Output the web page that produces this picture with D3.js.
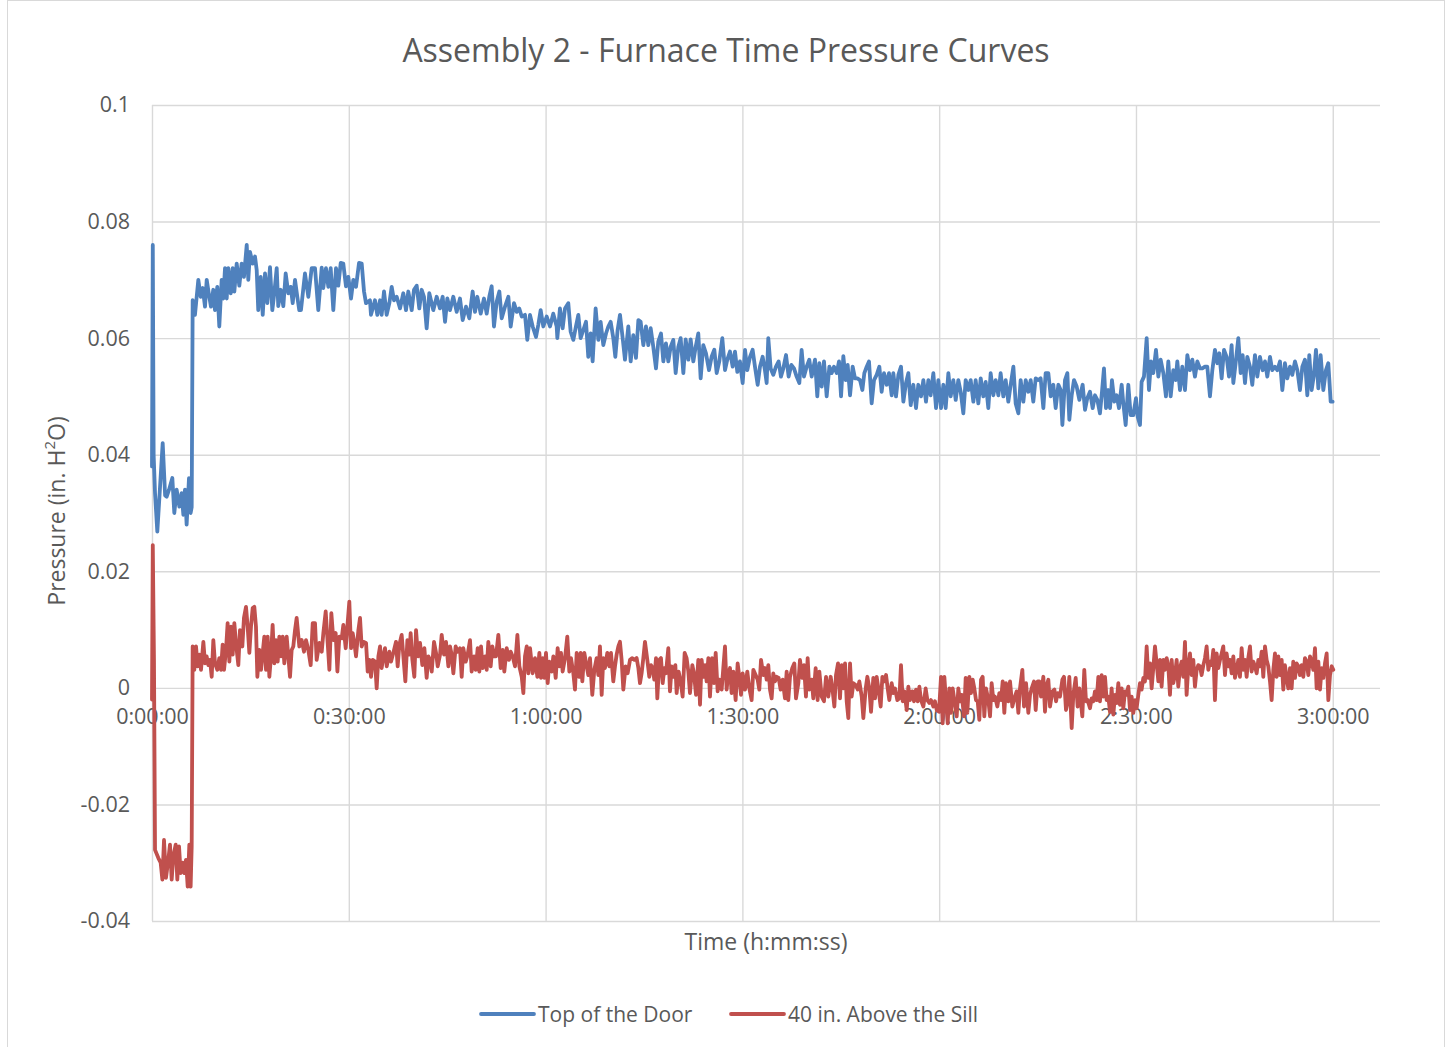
<!DOCTYPE html>
<html>
<head>
<meta charset="utf-8">
<script src="https://cdn.jsdelivr.net/npm/d3@7"></script>
<style>
  body { margin: 0; background: #fff; }
  svg { font-family: "Open Sans", "DejaVu Sans", sans-serif; }
</style>
</head>
<body>
<svg id="chart" width="1452" height="1047"></svg>
<script>
// axis ticks
var xTicks = [0, 30, 60, 90, 120, 150, 180];
var xTickLabels = ["0:00:00", "0:30:00", "1:00:00", "1:30:00", "2:00:00", "2:30:00", "3:00:00"];
var yTicks = [-0.04, -0.02, 0, 0.02, 0.04, 0.06, 0.08, 0.1];
var yTickLabels = ["-0.04", "-0.02", "0", "0.02", "0.04", "0.06", "0.08", "0.1"];

var seriesNames = ["Top of the Door", "40 in. Above the Sill"];

// [minutes, pressure in. H2O]
var topOfDoor = [
  [0,0.038],[0.12,0.076],[0.25,0.040],[0.46,0.0334],[0.81,0.0268],[1.2,0.034],[1.63,0.042],[2.0,0.033],[2.24,0.0328],[2.6,0.034],
  [3.1,0.036],[3.4,0.030],[3.76,0.034],[4.17,0.0311],[4.52,0.0334],[4.78,0.0297],[5.03,0.034],[5.28,0.028],[5.64,0.036],[5.89,0.030],
  [6.05,0.031],[6.20,0.0665],[6.55,0.064],[7.06,0.070],[7.42,0.0671],[7.73,0.0686],[8.08,0.0654],[8.34,0.070],[8.69,0.0674],[8.99,0.0654],
  [9.34,0.0683],[9.60,0.0648],[9.95,0.0688],[10.26,0.062],[10.62,0.070],[10.87,0.0668],[11.13,0.072],[11.39,0.0668],[11.63,0.072],[12.00,0.0677],
  [12.30,0.072],[12.55,0.068],[12.91,0.0728],[13.31,0.069],[13.67,0.0728],[14.02,0.0705],[14.44,0.076],[14.68,0.070],[14.94,0.0748],[15.35,0.0728],
  [15.70,0.074],[15.96,0.0717],[16.20,0.0648],[16.57,0.0705],[16.88,0.064],[17.23,0.0711],[17.58,0.066],[17.99,0.0722],[18.34,0.0648],[18.64,0.0677],
  [19.01,0.072],[19.25,0.0655],[19.62,0.0683],[20.02,0.0655],[20.38,0.0711],[20.78,0.0677],[21.14,0.0688],[21.45,0.066],[21.80,0.070],[22.15,0.0671],
  [22.45,0.0648],[22.71,0.0648],[23.32,0.0711],[23.83,0.0671],[24.34,0.072],[24.85,0.072],[25.35,0.0648],[25.87,0.0721],[26.11,0.0686],[26.52,0.072],
  [26.88,0.0688],[27.24,0.072],[27.64,0.0648],[28.05,0.072],[28.40,0.069],[28.77,0.0729],[29.16,0.0728],[29.57,0.0689],[29.93,0.0705],[30.34,0.0668],
  [30.69,0.070],[31.10,0.0688],[31.56,0.0729],[31.97,0.0728],[32.32,0.068],[32.62,0.066],[33.23,0.0665],[33.38,0.064],[33.99,0.0665],[34.35,0.064],
  [34.76,0.0665],[35.01,0.064],[35.37,0.068],[35.77,0.064],[36.18,0.066],[36.54,0.0688],[36.89,0.0665],[37.30,0.0671],[37.81,0.0651],[38.31,0.0677],
  [38.72,0.0648],[39.07,0.068],[39.59,0.0648],[39.94,0.0683],[40.35,0.069],[40.75,0.0651],[41.11,0.0683],[41.46,0.0671],[41.87,0.0617],[42.27,0.0677],
  [42.88,0.0648],[43.40,0.0671],[43.90,0.0651],[44.31,0.0671],[44.67,0.0628],[45.02,0.0668],[45.43,0.0648],[45.93,0.0671],[46.45,0.0645],[46.95,0.0668],
  [47.36,0.0631],[47.87,0.0654],[48.37,0.0634],[48.88,0.068],[49.24,0.0645],[49.59,0.0671],[50.11,0.0642],[50.61,0.0668],[51.02,0.0642],[51.42,0.0671],
  [51.78,0.0689],[52.13,0.062],[52.55,0.0663],[52.95,0.068],[53.31,0.0634],[53.81,0.0654],[54.32,0.0671],[54.68,0.062],[55.18,0.066],[55.60,0.0645],
  [55.99,0.0651],[56.36,0.0637],[56.86,0.064],[57.21,0.0597],[57.62,0.064],[58.03,0.062],[58.54,0.0602],[58.89,0.0623],[59.25,0.0648],[59.65,0.062],
  [60.17,0.0637],[60.67,0.062],[61.17,0.0642],[61.69,0.062],[61.79,0.060],[62.19,0.0651],[62.60,0.0617],[62.96,0.0651],[63.46,0.066],[63.82,0.0611],
  [64.23,0.0597],[64.63,0.062],[64.99,0.064],[65.34,0.060],[65.75,0.0614],[66.16,0.0628],[66.51,0.0568],[66.87,0.0608],[67.17,0.056],[67.63,0.0651],
  [68.04,0.0597],[68.39,0.0628],[68.80,0.0588],[69.21,0.0608],[69.56,0.062],[69.92,0.0628],[70.32,0.060],[70.63,0.0568],[70.98,0.0614],[71.34,0.064],
  [71.75,0.060],[72.10,0.0563],[72.61,0.062],[72.97,0.056],[73.37,0.0605],[73.78,0.0566],[74.14,0.0631],[74.49,0.0628],[74.90,0.0588],[75.30,0.062],
  [75.66,0.0588],[76.02,0.0617],[76.42,0.0585],[76.83,0.0548],[77.18,0.0594],[77.59,0.0608],[77.95,0.056],[78.35,0.0591],[78.71,0.056],[79.06,0.0585],
  [79.47,0.0597],[79.83,0.054],[80.23,0.0585],[80.59,0.060],[81.00,0.054],[81.35,0.0598],[81.76,0.0563],[82.11,0.0598],[82.52,0.056],[82.88,0.0585],
  [83.28,0.0608],[83.64,0.0531],[84.04,0.0588],[84.45,0.0574],[84.91,0.0545],[85.31,0.0568],[85.72,0.058],[86.08,0.054],[86.48,0.056],[86.94,0.060],
  [87.35,0.0545],[87.70,0.0563],[88.11,0.0577],[88.52,0.0551],[88.87,0.0577],[89.23,0.0542],[89.63,0.056],[90.04,0.0523],[90.40,0.058],[90.75,0.0545],
  [91.16,0.0568],[91.56,0.058],[91.92,0.0551],[92.33,0.052],[92.68,0.0551],[93.09,0.0568],[93.44,0.0545],[93.70,0.0523],[93.95,0.060],[94.31,0.0548],
  [94.71,0.0537],[95.12,0.0551],[95.53,0.056],[95.88,0.0534],[96.24,0.0548],[96.65,0.0571],[97.05,0.0534],[97.46,0.0554],[97.87,0.0548],[98.27,0.0534],
  [98.68,0.0523],[99.03,0.058],[99.39,0.0534],[99.80,0.0551],[100.20,0.0563],[100.56,0.0534],[101.07,0.0563],[101.42,0.050],[101.73,0.0557],[102.09,0.0517],
  [102.44,0.056],[102.85,0.050],[103.26,0.0551],[103.61,0.054],[103.97,0.0551],[104.38,0.054],[104.73,0.056],[105.04,0.050],[105.39,0.0569],[105.75,0.0528],
  [106.05,0.0554],[106.41,0.0502],[106.81,0.0551],[107.17,0.0531],[107.53,0.0531],[107.93,0.0528],[108.29,0.0511],[108.59,0.054],[108.95,0.0551],[109.30,0.056],
  [109.71,0.0488],[110.07,0.0528],[110.47,0.0537],[110.88,0.0551],[111.23,0.0508],[111.59,0.054],[112.00,0.052],[112.35,0.054],[112.76,0.0502],[113.01,0.054],
  [113.42,0.050],[113.78,0.0537],[114.18,0.0551],[114.54,0.0491],[114.94,0.0523],[115.30,0.054],[115.66,0.0485],[116.06,0.052],[116.47,0.048],[116.82,0.052],
  [117.23,0.050],[117.59,0.0528],[117.99,0.0491],[118.35,0.0528],[118.70,0.0502],[119.11,0.054],[119.52,0.048],[119.87,0.0528],[120.28,0.048],[120.64,0.052],
  [120.99,0.048],[121.40,0.054],[121.75,0.050],[122.16,0.0528],[122.52,0.0494],[122.92,0.0528],[123.28,0.0508],[123.68,0.0471],[124.04,0.0528],[124.45,0.0511],
  [124.80,0.0528],[125.21,0.0491],[125.56,0.0528],[125.97,0.0488],[126.33,0.0531],[126.73,0.050],[127.09,0.0525],[127.49,0.048],[127.85,0.054],[128.26,0.0502],
  [128.61,0.0528],[129.02,0.0502],[129.37,0.054],[129.78,0.050],[130.14,0.0528],[130.54,0.0491],[130.90,0.052],[131.31,0.0551],[131.66,0.0488],[132.07,0.0471],
  [132.42,0.0528],[132.83,0.0491],[133.19,0.0528],[133.59,0.0508],[133.95,0.0528],[134.35,0.0491],[134.71,0.0531],[135.12,0.0528],[135.47,0.0531],[135.88,0.048],
  [136.23,0.054],[136.64,0.054],[137.00,0.050],[137.40,0.052],[137.76,0.048],[138.17,0.052],[138.52,0.0511],[138.78,0.0451],[139.18,0.0528],[139.54,0.054],
  [139.84,0.046],[140.20,0.0502],[140.55,0.0528],[140.96,0.0517],[141.37,0.0494],[141.87,0.052],[142.23,0.0477],[142.58,0.0497],[142.99,0.0508],[143.40,0.048],
  [143.75,0.0502],[144.11,0.0494],[144.51,0.0471],[144.82,0.0508],[145.12,0.0548],[145.43,0.048],[145.78,0.0511],[146.04,0.048],[146.34,0.0528],[146.70,0.0491],
  [147.05,0.0502],[147.41,0.048],[147.82,0.052],[148.07,0.0488],[148.43,0.0451],[148.83,0.052],[149.19,0.0468],[149.59,0.0468],[150.00,0.0497],[150.26,0.0465],
  [150.61,0.0451],[150.86,0.0525],[151.22,0.0534],[151.63,0.060],[151.98,0.0511],[152.29,0.056],[152.64,0.054],[153.05,0.058],[153.41,0.0534],[153.76,0.0563],
  [154.17,0.054],[154.57,0.050],[154.93,0.056],[155.29,0.050],[155.69,0.0545],[156.05,0.0528],[156.30,0.056],[156.71,0.0511],[157.06,0.0551],[157.47,0.0511],
  [157.83,0.0571],[158.23,0.0545],[158.59,0.0563],[158.99,0.0534],[159.35,0.056],[159.76,0.0548],[160.11,0.0548],[160.52,0.0551],[160.87,0.0551],[161.28,0.050],
  [161.64,0.0545],[162.04,0.058],[162.40,0.0557],[162.70,0.0574],[163.06,0.0531],[163.42,0.058],[163.82,0.0568],[164.18,0.0534],[164.58,0.0588],[164.84,0.0523],
  [165.19,0.0557],[165.60,0.060],[165.96,0.054],[166.26,0.0571],[166.62,0.0523],[166.97,0.0568],[167.38,0.0551],[167.73,0.052],[168.14,0.0571],[168.50,0.0534],
  [168.90,0.0568],[169.31,0.0545],[169.67,0.056],[170.02,0.0534],[170.43,0.0568],[170.78,0.0545],[171.19,0.0551],[171.55,0.0545],[171.95,0.056],[172.31,0.0511],
  [172.71,0.0557],[173.07,0.0531],[173.48,0.0551],[173.83,0.0537],[174.24,0.056],[174.60,0.0545],[175.00,0.0511],[175.36,0.0551],[175.76,0.0563],[176.12,0.0502],
  [176.42,0.0571],[176.78,0.0511],[177.13,0.0537],[177.44,0.058],[177.80,0.0514],[178.15,0.0571],[178.56,0.0511],[178.96,0.0545],[179.32,0.0557],[179.68,0.0491],
  [179.98,0.0491]
];

var aboveSill = [
  [0,-0.002],[0.12,0.0245],[0.3,0.005],[0.46,-0.0278],[0.97,-0.0292],[1.32,-0.030],[1.58,-0.0329],[1.83,-0.0261],[2.13,-0.0326],[2.49,-0.0295],
  [2.74,-0.0269],[3.00,-0.0329],[3.25,-0.0289],[3.61,-0.0269],[3.86,-0.0329],[4.12,-0.0272],[4.37,-0.0318],[4.67,-0.030],[4.93,-0.0318],[5.18,-0.0295],
  [5.44,-0.0341],[5.69,-0.0269],[5.89,-0.0341],[6.05,-0.0272],[6.20,0.0071],[6.45,0.0031],[6.71,0.0071],[6.96,0.0037],[7.22,0.0057],[7.47,0.0031],
  [7.83,0.0079],[8.08,0.0042],[8.33,0.0054],[8.59,0.0039],[8.84,0.0048],[9.10,0.0019],[9.35,0.0082],[9.60,0.0042],[9.96,0.0031],[10.26,0.0051],
  [10.52,0.0031],[10.77,0.0074],[10.98,0.0031],[11.28,0.0065],[11.53,0.0111],[11.79,0.0045],[12.04,0.0105],[12.30,0.0057],[12.55,0.0111],[12.80,0.0077],
  [13.16,0.0039],[13.41,0.0099],[13.77,0.0071],[14.02,0.012],[14.33,0.0139],[14.58,0.0105],[14.84,0.006],[15.09,0.0105],[15.35,0.0137],[15.60,0.0139],
  [15.85,0.0105],[16.06,0.0019],[16.36,0.0065],[16.62,0.0031],[16.87,0.006],[17.12,0.0088],[17.38,0.0031],[17.63,0.0088],[17.89,0.0019],[18.14,0.0054],
  [18.39,0.0108],[18.65,0.0042],[18.90,0.0082],[19.16,0.0045],[19.41,0.0088],[19.66,0.0054],[19.92,0.0088],[20.17,0.0042],[20.53,0.0088],[20.78,0.0054],
  [21.04,0.0019],[21.29,0.0065],[21.54,0.0071],[21.80,0.0099],[22.05,0.012],[22.46,0.0071],[22.82,0.0082],[23.17,0.0062],[23.48,0.0082],[23.83,0.0065],
  [24.19,0.0039],[24.50,0.0111],[24.85,0.0111],[25.10,0.0048],[25.51,0.0077],[25.87,0.0062],[26.12,0.0094],[26.48,0.0131],[26.78,0.0077],[27.04,0.0031],
  [27.34,0.0128],[27.65,0.0082],[28.00,0.0094],[28.26,0.0028],[28.56,0.0088],[28.92,0.0085],[29.17,0.0108],[29.53,0.0068],[29.78,0.0105],[30.08,0.0148],
  [30.34,0.0068],[30.59,0.0094],[30.85,0.0077],[31.10,0.0054],[31.46,0.0099],[31.71,0.012],[31.96,0.0071],[32.22,0.0079],[32.63,0.0077],[32.88,0.0028],
  [33.13,0.0048],[33.39,0.0019],[33.64,0.0048],[34.00,0.0045],[34.25,-0.0001],[34.51,0.0054],[34.76,0.0071],[35.01,0.0034],[35.27,0.0054],[35.52,0.0068],
  [35.78,0.0037],[36.18,0.0062],[36.44,0.0045],[36.79,0.006],[37.20,0.0079],[37.45,0.0037],[37.71,0.0074],[38.06,0.0091],[38.32,0.0054],[38.62,0.0011],
  [38.93,0.0082],[39.23,0.0057],[39.43,0.0094],[39.69,0.0048],[39.99,0.0019],[40.25,0.0099],[40.55,0.0054],[40.86,0.0077],[41.21,0.0039],[41.52,0.0068],
  [41.87,0.0017],[42.13,0.0054],[42.38,0.0048],[42.64,0.0028],[42.99,0.0079],[43.30,0.006],[43.55,0.0037],[43.91,0.0057],[44.16,0.0091],[44.52,0.0057],
  [44.82,0.0079],[45.18,0.0037],[45.43,0.0071],[45.68,0.0057],[45.94,0.0025],[46.29,0.0071],[46.60,0.0062],[46.95,0.0068],[47.21,0.0019],[47.46,0.0068],
  [47.82,0.0045],[48.12,0.0057],[48.48,0.0082],[48.73,0.0028],[49.09,0.0054],[49.34,0.0031],[49.65,0.0068],[49.90,0.0028],[50.16,0.0071],[50.41,0.0034],
  [50.77,0.0054],[51.02,0.0031],[51.27,0.0079],[51.63,0.0037],[51.88,0.0071],[52.19,0.0054],[52.44,0.0054],[52.80,0.0091],[53.15,0.0034],[53.46,0.0065],
  [53.71,0.0028],[54.07,0.0068],[54.42,0.0048],[54.68,0.0062],[54.98,0.0054],[55.34,0.0037],[55.70,0.0091],[56.00,0.0037],[56.36,0.0019],[56.61,-0.0009],
  [56.86,0.0054],[57.12,0.0071],[57.37,0.0025],[57.63,0.0068],[58.03,0.0025],[58.39,0.0051],[58.74,0.0019],[59.05,0.006],[59.30,0.0017],[59.56,0.0051],
  [59.81,0.0017],[60.06,0.006],[60.32,0.0008],[60.57,0.0045],[60.93,0.0028],[61.18,0.0054],[61.54,0.0017],[61.84,0.0068],[62.10,0.0037],[62.35,0.006],
  [62.60,0.0028],[62.96,0.0051],[63.31,0.0088],[63.62,0.0028],[63.87,0.0051],[64.23,0.0025],[64.48,-0.0003],[64.74,0.006],[65.09,0.0019],[65.34,0.006],
  [65.60,0.0011],[65.90,0.006],[66.26,0.0037],[66.51,0.0022],[66.77,0.0051],[67.12,-0.0012],[67.43,0.0031],[67.78,0.0051],[68.04,0.0022],[68.29,0.0071],
  [68.55,-0.0012],[68.80,0.0051],[69.05,0.0034],[69.41,0.006],[69.71,0.0037],[69.97,0.006],[70.32,0.0011],[70.58,0.0037],[70.83,0.0057],[71.09,0.0071],
  [71.34,0.0079],[71.59,0.0048],[71.85,-0.0003],[72.20,0.0037],[72.51,0.0025],[72.87,0.0048],[73.22,0.0051],[73.53,0.0048],[73.88,0.0051],[74.14,0.0034],
  [74.39,0.0008],[74.64,0.0025],[74.90,0.0051],[75.15,0.0079],[75.51,0.0048],[75.81,0.0019],[76.07,0.0039],[76.32,0.0034],[76.57,0.0014],[76.83,0.0051],
  [77.03,-0.0018],[77.34,0.0048],[77.59,0.0051],[77.85,0.0008],[78.10,0.0034],[78.35,0.0025],[78.71,0.0068],[78.96,-0.0006],[79.22,0.0037],[79.47,0.0019],
  [79.78,0.0039],[79.98,-0.0009],[80.28,0.0028],[80.59,0.0011],[80.89,-0.0015],[81.20,0.006],[81.50,0.0051],[81.76,0.0028],[82.01,-0.0009],[82.37,0.0039],
  [82.62,0.0025],[82.93,-0.0012],[83.28,0.0048],[83.54,-0.0029],[83.79,0.0048],[84.04,0.0019],[84.30,0.0039],[84.55,0.0011],[84.81,0.0051],[85.06,-0.0015],
  [85.37,0.0051],[85.67,0.0008],[85.93,0.006],[86.23,-0.0006],[86.48,0.0014],[86.84,-0.0003],[87.09,0.0034],[87.35,0.0071],[87.60,-0.0003],[87.85,0.0025],
  [88.11,0.0034],[88.36,-0.0009],[88.62,0.0028],[88.97,-0.0021],[89.28,0.0042],[89.53,0.0019],[89.79,-0.0012],[90.04,0.0025],[90.40,-0.0003],[90.75,0.0028],
  [91.06,-0.0001],[91.41,-0.0021],[91.67,0.0031],[92.02,0.0022],[92.33,0.0014],[92.58,-0.0003],[92.84,0.0048],[93.19,0.0022],[93.44,0.0034],[93.70,0.0014],
  [93.95,0.0039],[94.21,-0.0003],[94.46,-0.0018],[94.71,0.0025],[94.97,0.0011],[95.22,0.0019],[95.53,0.0017],[95.83,-0.0003],[96.14,0.0014],[96.49,-0.0018],
  [96.75,0.0028],[97.00,-0.0021],[97.26,0.0019],[97.61,0.0034],[97.92,0.0042],[98.17,-0.0018],[98.53,0.0008],[98.78,0.0048],[99.14,0.0017],[99.39,0.0039],
  [99.69,-0.0015],[99.95,0.0051],[100.20,-0.0003],[100.56,0.0014],[100.81,-0.0018],[101.17,0.0034],[101.47,-0.0021],[101.73,0.0028],[102.09,-0.0015],[102.44,-0.0023],
  [102.75,0.0019],[103.10,-0.0015],[103.46,0.0019],[103.77,-0.0006],[104.02,-0.0032],[104.27,0.0022],[104.58,0.0042],[104.88,-0.0018],[105.14,0.0039],[105.39,-0.0001],
  [105.65,0.0042],[105.90,-0.0023],[106.15,-0.0052],[106.41,0.0042],[106.66,-0.0015],[106.92,0.0008],[107.27,0.0005],[107.58,-0.0003],[107.83,0.0011],[108.19,-0.0015],
  [108.44,-0.0052],[108.80,-0.0001],[109.05,0.0019],[109.35,-0.0001],[109.61,-0.0041],[109.96,0.0017],[110.22,-0.0018],[110.47,0.0019],[110.73,-0.0001],[111.08,-0.0032],
  [111.34,0.0019],[111.59,0.0011],[111.90,0.0022],[112.15,-0.0001],[112.40,-0.0021],[112.76,0.0008],[113.01,-0.0009],[113.27,-0.0001],[113.62,-0.0021],[113.93,-0.0018],
  [114.18,0.0039],[114.44,-0.0023],[114.69,-0.0006],[115.05,-0.0038],[115.30,0.0002],[115.55,-0.0021],[115.91,-0.0006],[116.16,-0.0023],[116.47,-0.0003],[116.72,-0.0023],
  [116.98,0.0002],[117.23,-0.0021],[117.59,-0.0032],[117.94,-0.0001],[118.20,-0.0021],[118.50,-0.0026],[118.75,-0.0021],[119.11,-0.0032],[119.36,-0.0023],[119.62,-0.0038],
  [119.97,-0.0041],[120.28,0.0019],[120.53,-0.0061],[120.79,0.0019],[121.04,-0.0023],[121.30,-0.0061],[121.55,-0.0001],[121.80,-0.0043],[122.06,-0.0001],[122.31,-0.0021],
  [122.67,-0.0049],[122.92,-0.0001],[123.18,-0.0023],[123.43,-0.0012],[123.79,-0.0049],[124.04,0.0017],[124.29,-0.0043],[124.60,0.0019],[124.85,-0.0009],[125.11,0.0014],
  [125.36,-0.0001],[125.61,-0.0021],[125.87,-0.0023],[126.12,-0.0055],[126.38,0.0014],[126.63,0.0019],[126.88,-0.0049],[127.14,-0.0001],[127.49,-0.0021],[127.75,-0.0049],
  [128.00,0.0008],[128.26,-0.0021],[128.51,-0.0015],[128.87,-0.0032],[129.17,-0.0009],[129.43,-0.0021],[129.68,0.0011],[129.93,-0.0043],[130.19,0.0008],[130.54,-0.0023],
  [130.80,0.0011],[131.15,-0.0032],[131.46,-0.0018],[131.81,-0.0006],[132.07,-0.0043],[132.32,-0.0001],[132.68,0.0031],[132.93,-0.0032],[133.24,0.0008],[133.59,-0.0043],
  [133.85,-0.0012],[134.10,-0.0001],[134.46,0.0011],[134.71,-0.0038],[135.02,0.0011],[135.27,0.0011],[135.52,-0.0015],[135.88,0.0019],[136.13,-0.0041],[136.39,0.0005],
  [136.64,0.0014],[136.90,-0.0032],[137.25,-0.0006],[137.56,-0.0003],[137.81,-0.0023],[138.06,-0.0009],[138.42,-0.0015],[138.78,0.0014],[139.03,0.0019],[139.33,-0.0038],
  [139.59,-0.0023],[139.84,0.0019],[140.20,-0.0069],[140.45,-0.0012],[140.81,0.0017],[141.11,-0.0032],[141.37,-0.0001],[141.82,-0.0049],[142.12,0.0031],[142.38,-0.0023],
  [142.63,-0.0021],[142.99,-0.0035],[143.24,-0.0018],[143.50,-0.0023],[143.75,-0.0006],[144.01,-0.0021],[144.26,0.0019],[144.51,-0.0023],[144.77,0.0022],[145.02,-0.0015],
  [145.28,0.0019],[145.53,-0.0021],[145.78,-0.0015],[146.04,-0.0041],[146.29,-0.0001],[146.55,-0.0046],[146.80,-0.0012],[147.05,-0.0026],[147.31,0.0008],[147.56,-0.0029],
  [147.82,-0.0001],[148.07,-0.0035],[148.32,-0.0006],[148.58,-0.0012],[148.83,0.0002],[149.09,-0.0038],[149.34,-0.0015],[149.59,-0.0043],[149.85,-0.0021],[150.10,-0.0035],
  [150.36,-0.0012],[150.61,0.0008],[150.86,-0.0003],[151.12,0.0017],[151.37,0.0011],[151.63,0.0071],[151.88,0.0017],[152.14,0.0042],[152.39,-0.0001],[152.64,0.0034],
  [152.90,0.0071],[153.15,0.0042],[153.41,0.0011],[153.66,0.0048],[153.91,0.0002],[154.17,0.0048],[154.42,0.0031],[154.68,0.0051],[154.93,0.0037],[155.18,-0.0012],
  [155.44,0.0048],[155.69,0.0008],[155.95,0.0022],[156.20,0.0048],[156.45,0.0002],[156.71,0.0034],[156.96,0.0045],[157.22,0.0019],[157.47,0.0079],[157.72,-0.0012],
  [157.98,0.0037],[158.23,0.0059],[158.49,0.0022],[158.74,0.0048],[158.99,0.0002],[159.25,0.0031],[159.50,0.0039],[159.76,0.0037],[160.01,0.0022],[160.27,0.0039],
  [160.52,0.0051],[160.77,0.0071],[161.03,0.0031],[161.28,0.0045],[161.54,0.0039],[161.79,0.0065],[162.04,-0.0021],[162.30,0.0059],[162.55,0.0034],[162.81,0.0048],
  [163.06,0.0059],[163.31,0.0071],[163.57,0.0022],[163.82,0.0059],[164.08,0.0037],[164.33,0.0048],[164.58,0.0025],[164.84,0.0054],[165.09,0.0017],[165.35,0.0031],
  [165.60,0.0048],[165.85,0.0019],[166.11,0.0068],[166.36,0.0031],[166.62,0.0048],[166.87,0.0019],[167.12,0.0051],[167.38,0.0071],[167.63,0.0028],[167.89,0.0045],
  [168.14,0.0037],[168.40,0.0025],[168.65,0.0048],[168.90,0.0037],[169.16,0.0062],[169.41,0.0019],[169.67,0.0071],[169.92,0.0048],[170.17,0.0037],[170.43,0.0011],
  [170.68,-0.0021],[170.94,0.0031],[171.19,0.0059],[171.44,0.0019],[171.70,0.0054],[171.95,0.0022],[172.21,0.0048],[172.46,-0.0003],[172.71,0.0039],[172.97,0.0017],
  [173.22,-0.0001],[173.48,0.0034],[173.73,-0.0001],[173.98,0.0045],[174.24,0.0017],[174.49,0.0042],[174.75,0.0037],[175.00,0.0022],[175.25,0.0039],[175.51,0.0019],
  [175.76,0.0051],[176.02,0.0045],[176.27,0.0022],[176.53,0.0054],[176.78,0.0045],[177.03,0.0031],[177.29,0.0068],[177.54,-0.0001],[177.80,0.0045],[178.05,-0.0003],
  [178.31,0.0034],[178.56,0.0017],[178.81,0.0042],[179.07,0.0059],[179.32,-0.0021],[179.58,0.0022],[179.83,0.0037],[180.08,0.0031]
];

var width = 1452, height = 1047;
var plot = { left: 152, right: 1380, top: 105, bottom: 921 };
var textColor = "#595959";
var gridColor = "#d9d9d9";
var colors = ["#4f81bd", "#c0504d"];

var svg = d3.select("#chart");

// chart border
svg.append("rect")
  .attr("x", 7.5).attr("y", 0.5)
  .attr("width", 1437).attr("height", 1060)
  .attr("fill", "#fff")
  .attr("stroke", gridColor);

// x domain in minutes; axis runs a bit past 3:00:00 like the original
var x = d3.scaleLinear().domain([0, 187.2]).range([plot.left, plot.right]);
var y = d3.scaleLinear().domain([-0.04, 0.1]).range([plot.bottom, plot.top]);

// gridlines
var gx = svg.append("g")
  .attr("transform", "translate(0," + plot.bottom + ")")
  .call(d3.axisBottom(x).tickValues(xTicks).tickSize(-(plot.bottom - plot.top)).tickFormat(""));
var gy = svg.append("g")
  .attr("transform", "translate(" + plot.left + ",0)")
  .call(d3.axisLeft(y).tickValues(yTicks).tickSize(-(plot.right - plot.left)).tickFormat(""));
[gx, gy].forEach(function(g) {
  g.select(".domain").remove();
  g.selectAll(".tick line").attr("stroke", gridColor).attr("stroke-width", 1.4);
});

// y tick labels
var yAxis = svg.append("g")
  .attr("transform", "translate(" + plot.left + ",0)")
  .call(d3.axisLeft(y).tickValues(yTicks).tickSize(0).tickPadding(22)
    .tickFormat(function(d, i) { return yTickLabels[i]; }));
yAxis.select(".domain").remove();
yAxis.selectAll("text")
  .attr("fill", textColor)
  .style("font-size", "21.5px")
  .style("font-family", "'Open Sans', sans-serif");

// x tick labels sit along the zero line
var xAxis = svg.append("g")
  .attr("transform", "translate(0," + y(0) + ")")
  .call(d3.axisBottom(x).tickValues(xTicks).tickSize(0).tickPadding(21)
    .tickFormat(function(d, i) { return xTickLabels[i]; }));
xAxis.select(".domain").remove();
xAxis.selectAll("text")
  .attr("fill", textColor)
  .style("font-size", "21.5px")
  .style("font-family", "'Open Sans', sans-serif");

// series
var line = d3.line()
  .x(function(d) { return x(d[0]); })
  .y(function(d) { return y(d[1]); });

[topOfDoor, aboveSill].forEach(function(data, i) {
  svg.append("path")
    .datum(data)
    .attr("fill", "none")
    .attr("stroke", colors[i])
    .attr("stroke-width", 3.8)
    .attr("stroke-linejoin", "round")
    .attr("stroke-linecap", "round")
    .attr("d", line);
});

// title
svg.append("text")
  .attr("x", 726).attr("y", 62)
  .attr("text-anchor", "middle")
  .attr("fill", textColor)
  .style("font-size", "32px")
  .text("Assembly 2 - Furnace Time Pressure Curves");

// axis titles
svg.append("text")
  .attr("x", 766).attr("y", 950)
  .attr("text-anchor", "middle")
  .attr("fill", textColor)
  .style("font-size", "23px")
  .text("Time (h:mm:ss)");

var yTitle = svg.append("text")
  .attr("transform", "translate(65,511) rotate(-90)")
  .attr("text-anchor", "middle")
  .attr("fill", textColor)
  .style("font-size", "23px");
yTitle.append("tspan").text("Pressure (in. H");
yTitle.append("tspan").attr("baseline-shift", "super").style("font-size", "15px").text("2");
yTitle.append("tspan").text("O)");

// legend
var legendX = [481, 731];
seriesNames.forEach(function(name, i) {
  var g = svg.append("g").attr("transform", "translate(" + legendX[i] + ",1014)");
  g.append("line")
    .attr("x1", 0).attr("x2", 53)
    .attr("stroke", colors[i])
    .attr("stroke-width", 3.8)
    .attr("stroke-linecap", "round");
  g.append("text")
    .attr("x", 57).attr("y", 7.5)
    .attr("fill", textColor)
    .style("font-size", "21px")
    .text(name);
});
</script>
</body>
</html>
